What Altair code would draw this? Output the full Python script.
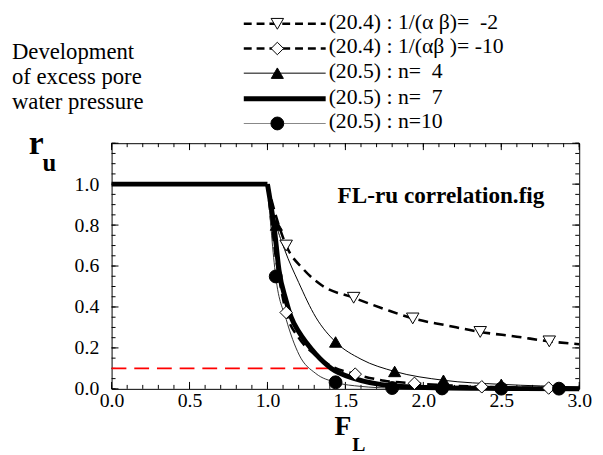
import altair as alt
import pandas as pd

# ---------------- data ----------------
# (20.4) 1/(alpha beta) = -2  (dashed, open inverted triangles)
f_m2 = [1.00, 1.06, 1.12, 1.23, 1.35, 1.553, 1.75, 1.932, 2.15, 2.365, 2.60, 2.808, 3.00]
r_m2 = [1.00, 0.83, 0.70, 0.585, 0.505, 0.445, 0.39, 0.344, 0.31, 0.278, 0.255, 0.232, 0.218]
mf_m2 = [1.12, 1.553, 1.932, 2.365, 2.808]
mr_m2 = [0.70, 0.445, 0.344, 0.278, 0.232]

# (20.4) 1/(alpha beta) = -10  (dashed, open diamonds)
f_m10 = [1.00, 1.04, 1.08, 1.12, 1.20, 1.30, 1.40, 1.563, 1.75, 1.943, 2.375, 2.804, 3.00]
r_m10 = [1.00, 0.72, 0.52, 0.373, 0.25, 0.17, 0.115, 0.072, 0.040, 0.027, 0.010, 0.004, 0.003]
mf_m10 = [1.12, 1.563, 1.943, 2.375, 2.804]
mr_m10 = [0.373, 0.072, 0.027, 0.010, 0.004]

# (20.5) n = 4  (thin solid, filled triangles)
f_n4 = [1.00, 1.057, 1.11, 1.20, 1.31, 1.437, 1.60, 1.816, 2.129, 2.50, 3.00]
r_n4 = [1.00, 0.80, 0.68, 0.52, 0.35, 0.229, 0.145, 0.085, 0.042, 0.022, 0.010]
mf_n4 = [1.057, 1.437, 1.816, 2.129, 2.50]
mr_n4 = [0.80, 0.229, 0.085, 0.042, 0.022]

# (20.5) n = 7  (thick solid, no markers)
f_n7_flat = [0.0, 1.0]
r_n7_flat = [1.0, 1.0]
f_n7 = [1.00, 1.046, 1.074, 1.12, 1.152, 1.20, 1.25, 1.31, 1.41, 1.56, 1.80, 2.10, 2.50, 3.00]
r_n7 = [1.00, 0.77, 0.58, 0.43, 0.35, 0.28, 0.225, 0.17, 0.10, 0.05, 0.015, 0.005, 0.002, 0.0]

# (20.5) n = 10  (thin solid, filled circles)
f_n10 = [1.00, 1.053, 1.12, 1.204, 1.31, 1.437, 1.60, 1.80, 2.12, 2.50, 3.00]
r_n10 = [1.00, 0.549, 0.34, 0.165, 0.075, 0.032, 0.012, 0.004, 0.002, 0.001, 0.0]
mf_n10 = [1.053, 1.437, 1.80, 2.12, 2.50, 2.87]
mr_n10 = [0.549, 0.032, 0.004, 0.002, 0.001, 0.001]

# red reference line
f_red = [0.0, 1.40]
r_red = [0.10, 0.10]

x_labels = [0.0, 0.5, 1.0, 1.5, 2.0, 2.5, 3.0]
y_labels = [0.0, 0.2, 0.4, 0.6, 0.8, 1.0]
x_minor = [round(i * 0.1, 2) for i in range(31)]
y_minor = [round(i * 0.05, 2) for i in range(25)]
y_major = [0.0, 0.2, 0.4, 0.6, 0.8, 1.0, 1.2]

legend_labels = [
    "(20.4) : 1/(\u03b1 \u03b2)=\u00a0 -2",
    "(20.4) : 1/(\u03b1\u03b2 )= -10",
    "(20.5) : n=\u00a0 4",
    "(20.5) : n=\u00a0 7",
    "(20.5) : n=10",
]
side_text = ["Development", "of excess pore", "water pressure"]

# ---------------- layout ----------------
W, H = 474, 249
SERIF = "Liberation Serif"
xs = alt.Scale(domain=[0, 3], nice=False, zero=False)
ys = alt.Scale(domain=[0, 1.2], nice=False, zero=False)

AX = alt.Axis(values=x_labels, format=".1f", title=None, ticks=False, tickSize=0,
              domain=False, grid=False, labelFont=SERIF, labelFontSize=20,
              labelColor="black", labelPadding=2, labelFlush=False, labelOverlap=False)
AY = alt.Axis(values=y_labels, format=".1f", title=None, ticks=False, tickSize=0,
              domain=False, grid=False, labelFont=SERIF, labelFontSize=20,
              labelColor="black", labelPadding=13, labelOverlap=False)


def X(field):
    return alt.X(field, scale=xs, axis=AX)


def Y(field):
    return alt.Y(field, scale=ys, axis=AY)


def df_of(f, r):
    return pd.DataFrame({"F": f, "ru": r})


def line(f, r, **kw):
    return alt.Chart(df_of(f, r)).mark_line(**kw).encode(
        x=X("F:Q"), y=Y("ru:Q"), order="F:Q")


def pts(f, r, **kw):
    return alt.Chart(df_of(f, r)).mark_point(opacity=1, **kw).encode(
        x=X("F:Q"), y=Y("ru:Q"))


def xticks(vals, length):
    d = pd.DataFrame({"v": vals})
    b = alt.Chart(d).mark_rule(color="black", strokeWidth=1).encode(
        x=X("v:Q"), y=alt.value(H), y2=alt.value(H - length))
    t = alt.Chart(d).mark_rule(color="black", strokeWidth=1).encode(
        x=X("v:Q"), y=alt.value(0), y2=alt.value(length))
    return [b, t]


def yticks(vals, length):
    d = pd.DataFrame({"v": vals})
    l = alt.Chart(d).mark_rule(color="black", strokeWidth=1).encode(
        y=Y("v:Q"), x=alt.value(0), x2=alt.value(length))
    r = alt.Chart(d).mark_rule(color="black", strokeWidth=1).encode(
        y=Y("v:Q"), x=alt.value(W), x2=alt.value(W - length))
    return [l, r]


layers = []
layers += xticks(x_minor, 4) + xticks(x_labels, 7)
layers += yticks(y_minor, 4) + yticks(y_major, 7)

DASH = [10, 6]
layers += [
    line(f_red, r_red, color="#ff0000", strokeWidth=2, strokeDash=[15, 8]),
    line(f_m2, r_m2, color="black", strokeWidth=2.6, strokeDash=DASH, interpolate="monotone"),
    line(f_m10, r_m10, color="black", strokeWidth=2.6, strokeDash=DASH, interpolate="monotone"),
    line(f_n4, r_n4, color="black", strokeWidth=1, interpolate="monotone"),
    line(f_n10, r_n10, color="#333333", strokeWidth=1, interpolate="monotone"),
    line(f_n7_flat, r_n7_flat, color="black", strokeWidth=5),
    line(f_n7, r_n7, color="black", strokeWidth=5, interpolate="monotone"),
    pts(mf_m2, mr_m2, shape="triangle-down", filled=True, fill="white", stroke="black", strokeWidth=1, size=160),
    pts(mf_m10, mr_m10, shape="diamond", filled=True, fill="white", stroke="black", strokeWidth=1, size=160),
    pts(mf_n4, mr_n4, shape="triangle-up", filled=True, fill="black", stroke="black", strokeWidth=1, size=150),
    pts(mf_n10, mr_n10, shape="circle", filled=True, fill="black", stroke="black", strokeWidth=1, size=170),
]

one = pd.DataFrame({"a": [0]})


def ptext(txt, x, y, size, bold=False, align="left", baseline="alphabetic"):
    return alt.Chart(one).mark_text(
        text=txt, font=SERIF, fontSize=size, fontWeight="bold" if bold else "normal",
        align=align, baseline=baseline, color="black").encode(
        x=alt.value(x), y=alt.value(y))


# annotation inside plot (data coords)
layers.append(alt.Chart(pd.DataFrame({"F": [1.45], "ru": [0.91], "t": ["FL-ru correlation.fig"]}))
              .mark_text(font=SERIF, fontSize=23.5, fontWeight="bold", align="left",
                         baseline="alphabetic", color="black")
              .encode(x=X("F:Q"), y=Y("ru:Q"), text="t:N"))

# axis titles (r_u, F_L)
OX, OY = 113, 142  # page position of plot origin
layers += [
    ptext("r", 29 - OX, 153 - OY, 34, bold=True),
    ptext("u", 43 - OX, 170 - OY, 25, bold=True),
    ptext("F", 339 - OX, 438 - OY, 28, bold=True),
    ptext("L", 357 - OX, 454 - OY, 20, bold=True),
]

# side text
for i, t in enumerate(side_text):
    layers.append(ptext(t, 12 - OX, 57 + 25 * i - OY, 23))

# legend
rows_y = [21, 46, 71, 97, 122]
leg_styles = [
    dict(line=dict(color="black", strokeWidth=2.6, strokeDash=[8, 5]),
         pt=dict(shape="triangle-down", fill="white", size=160)),
    dict(line=dict(color="black", strokeWidth=2.6, strokeDash=[8, 5]),
         pt=dict(shape="diamond", fill="white", size=160)),
    dict(line=dict(color="black", strokeWidth=1),
         pt=dict(shape="triangle-up", fill="black", size=150)),
    dict(line=dict(color="black", strokeWidth=5), pt=None),
    dict(line=dict(color="#888888", strokeWidth=1.2),
         pt=dict(shape="circle", fill="black", size=170)),
]
for i, (lab, st) in enumerate(zip(legend_labels, leg_styles)):
    yy = rows_y[i] - OY
    layers.append(alt.Chart(one).mark_rule(**st["line"]).encode(
        x=alt.value(247 - OX), x2=alt.value(330 - OX), y=alt.value(yy)))
    if st["pt"] is not None:
        p = st["pt"]
        layers.append(alt.Chart(one).mark_point(
            shape=p["shape"], filled=True, fill=p["fill"], stroke="black", strokeWidth=1,
            size=p["size"], opacity=1).encode(x=alt.value(281 - OX), y=alt.value(yy)))
    layers.append(ptext(lab, 333 - OX, rows_y[i] + 5 - OY, 22))

chart = alt.layer(*layers).properties(
    width=W, height=H,
    autosize=alt.AutoSizeParams(type="none"),
    padding={"left": 105, "top": 134, "right": 16, "bottom": 64},
    background="white",
).configure_view(stroke="black", strokeWidth=1)

chart.save("out.html", embed_options={"renderer": "svg", "actions": False})
